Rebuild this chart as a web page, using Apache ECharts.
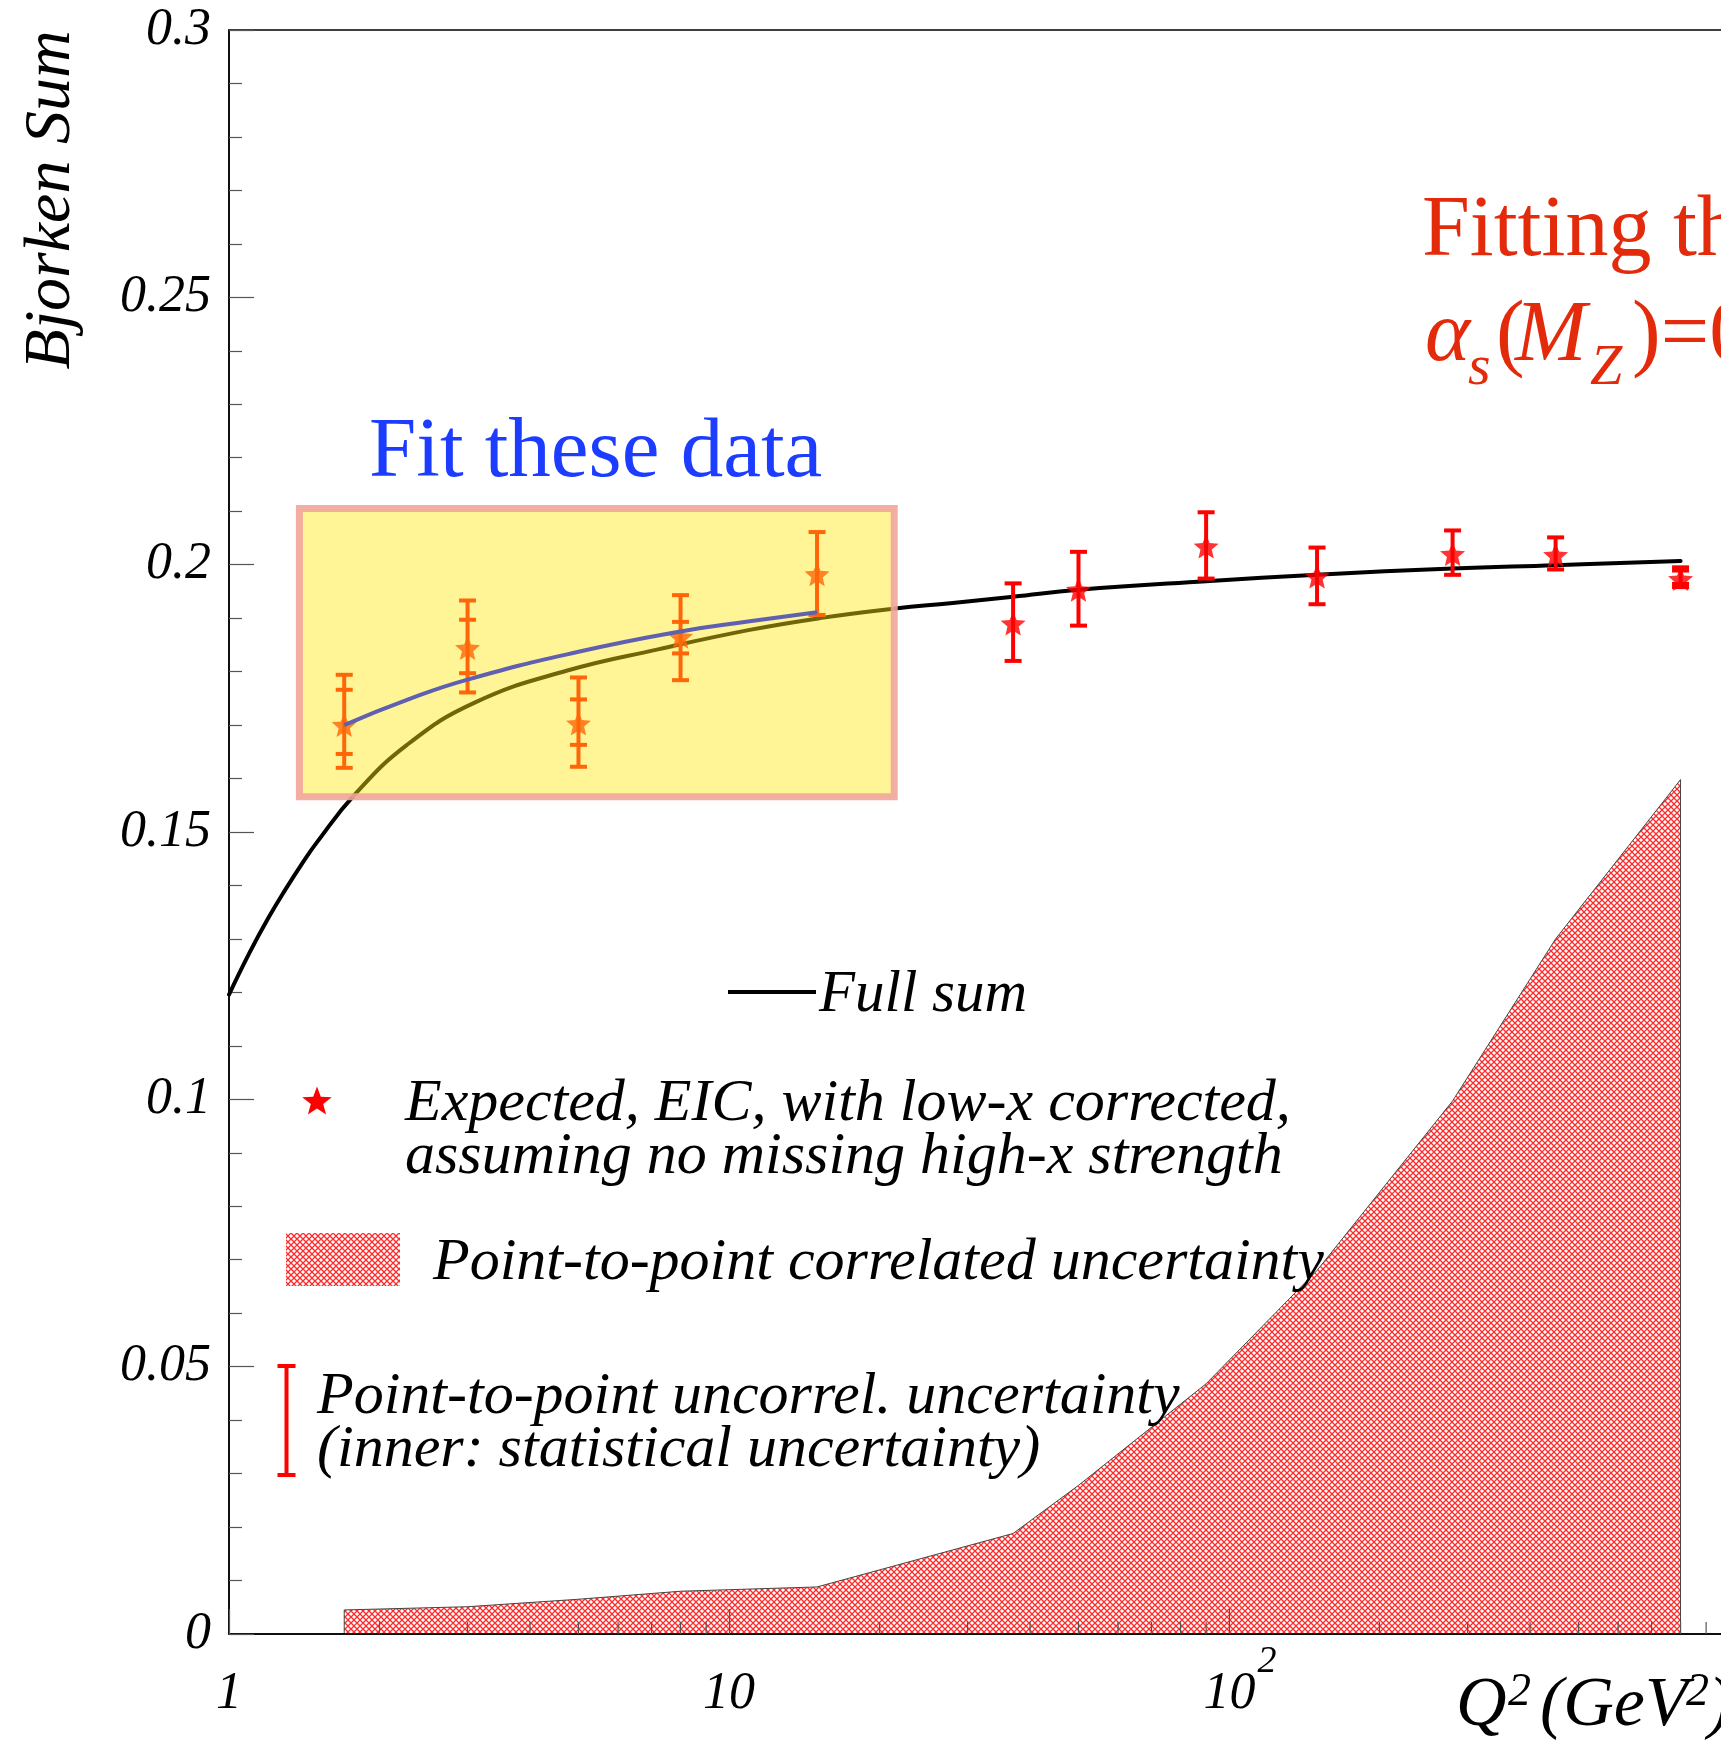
<!DOCTYPE html>
<html><head><meta charset="utf-8">
<script src="https://cdn.jsdelivr.net/npm/echarts@6/dist/echarts.min.js"></script>
<style>html,body{margin:0;padding:0;overflow:hidden;background:#fff;}#main{width:1800px;height:1752px;}</style>
</head><body><div id="main"></div>
<script>
// ---------------- data ----------------
const q2Curve = [1, 1.1, 1.2, 1.3, 1.4, 1.5, 1.78, 2.27, 3.1, 4.75, 7.25, 11, 15.2, 21.5, 27.7, 37, 50, 90, 150, 280, 450, 800];
const bsCurve = [0.1196, 0.1275, 0.1340, 0.1394, 0.1441, 0.1481, 0.1569, 0.1663, 0.1742, 0.1802, 0.1842, 0.1878, 0.1900, 0.1918, 0.1928, 0.1940, 0.1953, 0.1969, 0.1981, 0.1993, 0.1999, 0.2007];

const q2Fit = [1.7, 2.27, 3, 5, 8, 11, 15];
const bsFit = [0.1700, 0.1747, 0.1785, 0.1837, 0.1875, 0.1894, 0.1911];

const q2Low = [1.7, 3, 5, 8, 15];
const bsLow = [0.1700, 0.1844, 0.1703, 0.1865, 0.1982];
const totLowHi = [0.1794, 0.1933, 0.1789, 0.1943, 0.2061];
const totLowLo = [0.1620, 0.1761, 0.1622, 0.1784, 0.1906];
const statLowHi = [0.1766, 0.1897, 0.1748, 0.1893, null];
const statLowLo = [0.1646, 0.1797, 0.1663, 0.1834, null];

const q2High = [37, 50, 90, 150, 280, 450, 800];
const bsHigh = [0.1890, 0.1953, 0.2034, 0.1978, 0.2020, 0.2018, 0.1973];
const totHighHi = [0.1965, 0.2024, 0.2098, 0.2032, 0.2064, 0.2051, 0.1995];
const totHighLo = [0.1820, 0.1886, 0.1974, 0.1926, 0.1981, 0.1991, 0.1958];
const statHighHi = [null, null, null, null, null, null, 0.1989];
const statHighLo = [null, null, null, null, null, null, 0.1964];

const q2Corr = [1.7, 3, 5, 8, 15, 37, 50, 90, 150, 280, 450, 800];
const corrErr = [0.0045, 0.0051, 0.0065, 0.0080, 0.0088, 0.0188, 0.0278, 0.0468, 0.0680, 0.0997, 0.1300, 0.1598];

const fitBox = [1.383, 21.4, 0.1566, 0.2105]; // Q2 from, Q2 to, sum from, sum to

const xTickValues = [1, 10, 100];
const xTickMantissa = ['1', '10', '10'];
const xTickExponent = ['', '', '2'];
const xMinorTicks = [2,3,4,5,6,7,8,9,20,30,40,50,60,70,80,90,200,300,400,500,600,700,800,900];
const yTickValues = [0, 0.05, 0.1, 0.15, 0.2, 0.25, 0.3];
const yTickLabels = ['0', '0.05', '0.1', '0.15', '0.2', '0.25', '0.3'];

// ---------------- helpers ----------------
const SERIF = "'Liberation Serif','Times New Roman',serif";
const STAR = 'path://M0,-10 L2.645,-3.641 L9.511,-3.09 L4.28,1.391 L5.878,8.09 L0,4.5 L-5.878,8.09 L-4.28,1.391 L-9.511,-3.09 L-2.645,-3.641 Z';

function starPoints(cx, cy, r, ri) {
  const pts = [];
  for (let k = 0; k < 10; k++) {
    const a = (-90 + k * 36) * Math.PI / 180;
    const rr = k % 2 === 0 ? r : ri;
    pts.push([cx + rr * Math.cos(a), cy + rr * Math.sin(a)]);
  }
  return pts;
}

function makeHatch() {
  const c = document.createElement('canvas');
  c.width = 6; c.height = 6;
  const g = c.getContext('2d');
  g.fillStyle = '#ffffff'; g.fillRect(0, 0, 6, 6);
  g.strokeStyle = '#ff2a2a'; g.lineWidth = 1.3;
  g.beginPath();
  g.moveTo(-1, -1); g.lineTo(7, 7);
  g.moveTo(7, -1); g.lineTo(-1, 7);
  g.stroke();
  return c;
}
const hatch = { image: makeHatch(), repeat: 'repeat' };

function zip(a, b) { return a.map((v, i) => [v, b[i]]); }
function errData(q, lo, hi, slo, shi) {
  return q.map((v, i) => [v, lo[i], hi[i], slo[i] == null ? -1 : slo[i], shi[i] == null ? -1 : shi[i]]);
}
function errBar(color) {
  return function (params, api) {
    const x = api.value(0);
    const pLo = api.coord([x, api.value(1)]);
    const pHi = api.coord([x, api.value(2)]);
    const w = 8.5;
    const st = { stroke: color, lineWidth: 4 };
    const cap = (p) => ({ type: 'line', shape: { x1: p[0] - w, y1: p[1], x2: p[0] + w, y2: p[1] }, style: st });
    const ch = [
      { type: 'line', shape: { x1: pLo[0], y1: pLo[1], x2: pHi[0], y2: pHi[1] }, style: st },
      cap(pLo), cap(pHi)
    ];
    const slo = api.value(3), shi = api.value(4);
    if (slo > 0 && shi > 0) {
      ch.push(cap(api.coord([x, slo])));
      ch.push(cap(api.coord([x, shi])));
    }
    return { type: 'group', children: ch };
  };
}

const chart = echarts.init(document.getElementById('main'), null, { renderer: 'canvas' });

const txt = (t, x, y, size, opts) => Object.assign({
  type: 'text', x: x, y: y, z: 50,
  style: Object.assign({
    text: t, font: 'italic ' + size + 'px ' + SERIF, fill: '#000',
    align: 'left', textAlign: 'left', verticalAlign: 'middle', textVerticalAlign: 'middle'
  }, (opts && opts.style) || {})
}, (opts && opts.el) || {});

const option = {
  animation: false,
  backgroundColor: '#fff',
  grid: { left: 229, top: 30, width: 1500, height: 1604, show: true, borderColor: '#000', borderWidth: 1.5, backgroundColor: 'transparent' },
  xAxis: {
    type: 'log', logBase: 10, min: 1, max: 1000, z: 3,
    axisLine: { show: true, lineStyle: { color: '#000', width: 1.5 } },
    axisTick: { show: true, inside: true, length: 25, lineStyle: { color: '#555', width: 1.2 } },
    splitLine: { show: false },
    axisLabel: {
      margin: 34,
      formatter: function (v) {
        const i = xTickValues.findIndex(t => Math.abs(t - v) < 1e-6 * t);
        if (i < 0) return '';
        if (!xTickExponent[i]) return '{n|' + xTickMantissa[i] + '}';
        return '{m|' + xTickMantissa[i] + '}{s|' + xTickExponent[i] + '}';
      },
      rich: {
        n: { fontFamily: SERIF, fontStyle: 'italic', fontSize: 52, lineHeight: 52, color: '#000' },
        m: { fontFamily: SERIF, fontStyle: 'italic', fontSize: 52, lineHeight: 52, color: '#000', padding: [0, 0, 0, 22] },
        s: { fontFamily: SERIF, fontStyle: 'italic', fontSize: 38, lineHeight: 52, color: '#000', padding: [0, 0, 64, 2] }
      }
    }
  },
  yAxis: {
    type: 'value', min: 0, max: 0.3, interval: 0.05, z: 3,
    axisLine: { show: true, lineStyle: { color: '#000', width: 1.5 } },
    axisTick: { show: true, inside: true, length: 25, lineStyle: { color: '#555', width: 1.2 } },
    minorTick: { show: true, splitNumber: 5, length: 13, lineStyle: { color: '#555', width: 1.2 } },
    splitLine: { show: false },
    axisLabel: {
      margin: 18, fontFamily: SERIF, fontStyle: 'italic', fontSize: 52, color: '#000',
      formatter: function (v) {
        const i = yTickValues.findIndex(t => Math.abs(t - v) < 1e-9);
        return i < 0 ? '' : yTickLabels[i];
      }
    }
  },
  series: [
    { // correlated uncertainty band
      type: 'custom', z: 2, silent: true,
      data: zip(q2Corr, corrErr),
      renderItem: function (params, api) {
        if (params.dataIndex !== 0) return null;
        const pts = [api.coord([q2Corr[0], 0])];
        for (let i = 0; i < q2Corr.length; i++) pts.push(api.coord([q2Corr[i], corrErr[i]]));
        pts.push(api.coord([q2Corr[q2Corr.length - 1], 0]));
        return { type: 'polygon', shape: { points: pts }, style: { fill: hatch, stroke: '#444', lineWidth: 1 } };
      }
    },
    { // minor x ticks (log decades)
      type: 'custom', z: 4, silent: true,
      data: xMinorTicks.map(v => [v, 0]),
      renderItem: function (params, api) {
        const p = api.coord([api.value(0), 0]);
        return { type: 'line', shape: { x1: p[0], y1: p[1], x2: p[0], y2: p[1] - 12 }, style: { stroke: '#555', lineWidth: 1.2 } };
      }
    },
    { // full sum
      type: 'line', z: 5, name: 'Full sum', data: zip(q2Curve, bsCurve),
      showSymbol: false, symbol: 'none', smooth: 0.45,
      lineStyle: { color: '#000', width: 4, cap: 'round' }
    },
    { type: 'custom', z: 6, data: errData(q2Low, totLowLo, totLowHi, statLowLo, statLowHi), renderItem: errBar('#ff0000') },
    { type: 'custom', z: 6, data: errData(q2High, totHighLo, totHighHi, statHighLo, statHighHi), renderItem: errBar('#ff0000') },
    { type: 'scatter', z: 6, data: zip(q2Low, bsLow), symbol: STAR, symbolSize: [25, 24], itemStyle: { color: '#ff0000' } },
    { type: 'scatter', z: 6, data: zip(q2High, bsHigh), symbol: STAR, symbolSize: [25, 24], itemStyle: { color: '#ff0000' } },
    { // yellow "fit these data" box, translucent over the marks
      type: 'custom', z: 7, silent: true,
      data: [fitBox],
      renderItem: function (params, api) {
        const a = api.coord([api.value(0), api.value(3)]);
        const b = api.coord([api.value(1), api.value(2)]);
        return { type: 'rect', shape: { x: a[0], y: a[1], width: b[0] - a[0], height: b[1] - a[1] },
          style: { fill: 'rgba(255,232,18,0.44)', stroke: 'rgba(241,165,155,0.9)', lineWidth: 7 } };
      }
    },
    { // fit curve
      type: 'line', z: 8, data: zip(q2Fit, bsFit), showSymbol: false, symbol: 'none', smooth: 0.5,
      lineStyle: { color: '#6060b0', width: 4 }
    }
  ],
  graphic: [
    // axis titles
    txt('Bjorken Sum', 52, 200, 66, { el: { rotation: Math.PI / 2 }, style: { align: 'center', textAlign: 'center' } }),
    txt('Q', 1456, 1707, 70),
    txt('2', 1508, 1693, 46),
    txt('(GeV', 1540, 1707, 70),
    txt('2', 1686, 1693, 46),
    txt(')', 1708, 1707, 70),
    // annotations
    txt('Fit these data', 369, 454, 85, { style: { font: '85px ' + SERIF, fill: '#1c3cff' } }),
    txt('Fitting these data gives', 1422, 232, 86, { style: { font: '86px ' + SERIF, fill: '#e32b0c' } }),
    txt('\u03b1', 1425, 337, 86, { style: { fill: '#e32b0c' } }),
    txt('s', 1468, 369, 58, { style: { fill: '#e32b0c' } }),
    txt('(', 1496, 337, 86, { style: { font: '86px ' + SERIF, fill: '#e32b0c' } }),
    txt('M', 1515, 337, 86, { style: { fill: '#e32b0c' } }),
    txt('Z', 1590, 369, 58, { style: { fill: '#e32b0c' } }),
    txt(')=0.1180', 1632, 337, 86, { style: { font: '86px ' + SERIF, fill: '#e32b0c' } }),
    // legend
    { type: 'line', z: 50, shape: { x1: 728, y1: 992, x2: 816, y2: 992 }, style: { stroke: '#000', lineWidth: 4 } },
    txt('Full sum', 819, 995, 59),
    { type: 'polygon', z: 50, shape: { points: starPoints(317, 1102, 15.5, 6.5) }, style: { fill: '#ff0000' } },
    txt('Expected, EIC, with low-x corrected,', 405, 1104, 60),
    txt('assuming no missing high-x strength', 405, 1157, 60),
    { type: 'rect', z: 50, shape: { x: 286, y: 1233, width: 114, height: 53 }, style: { fill: hatch } },
    txt('Point-to-point correlated uncertainty', 433, 1263, 60),
    { type: 'line', z: 50, shape: { x1: 286.5, y1: 1366, x2: 286.5, y2: 1475 }, style: { stroke: '#ff0000', lineWidth: 4 } },
    { type: 'line', z: 50, shape: { x1: 277.5, y1: 1366, x2: 295.5, y2: 1366 }, style: { stroke: '#ff0000', lineWidth: 4 } },
    { type: 'line', z: 50, shape: { x1: 277.5, y1: 1475, x2: 295.5, y2: 1475 }, style: { stroke: '#ff0000', lineWidth: 4 } },
    txt('Point-to-point uncorrel. uncertainty', 317, 1397, 60),
    txt('(inner: statistical uncertainty)', 317, 1450, 60)
  ]
};
chart.setOption(option);
</script>
</body></html>
